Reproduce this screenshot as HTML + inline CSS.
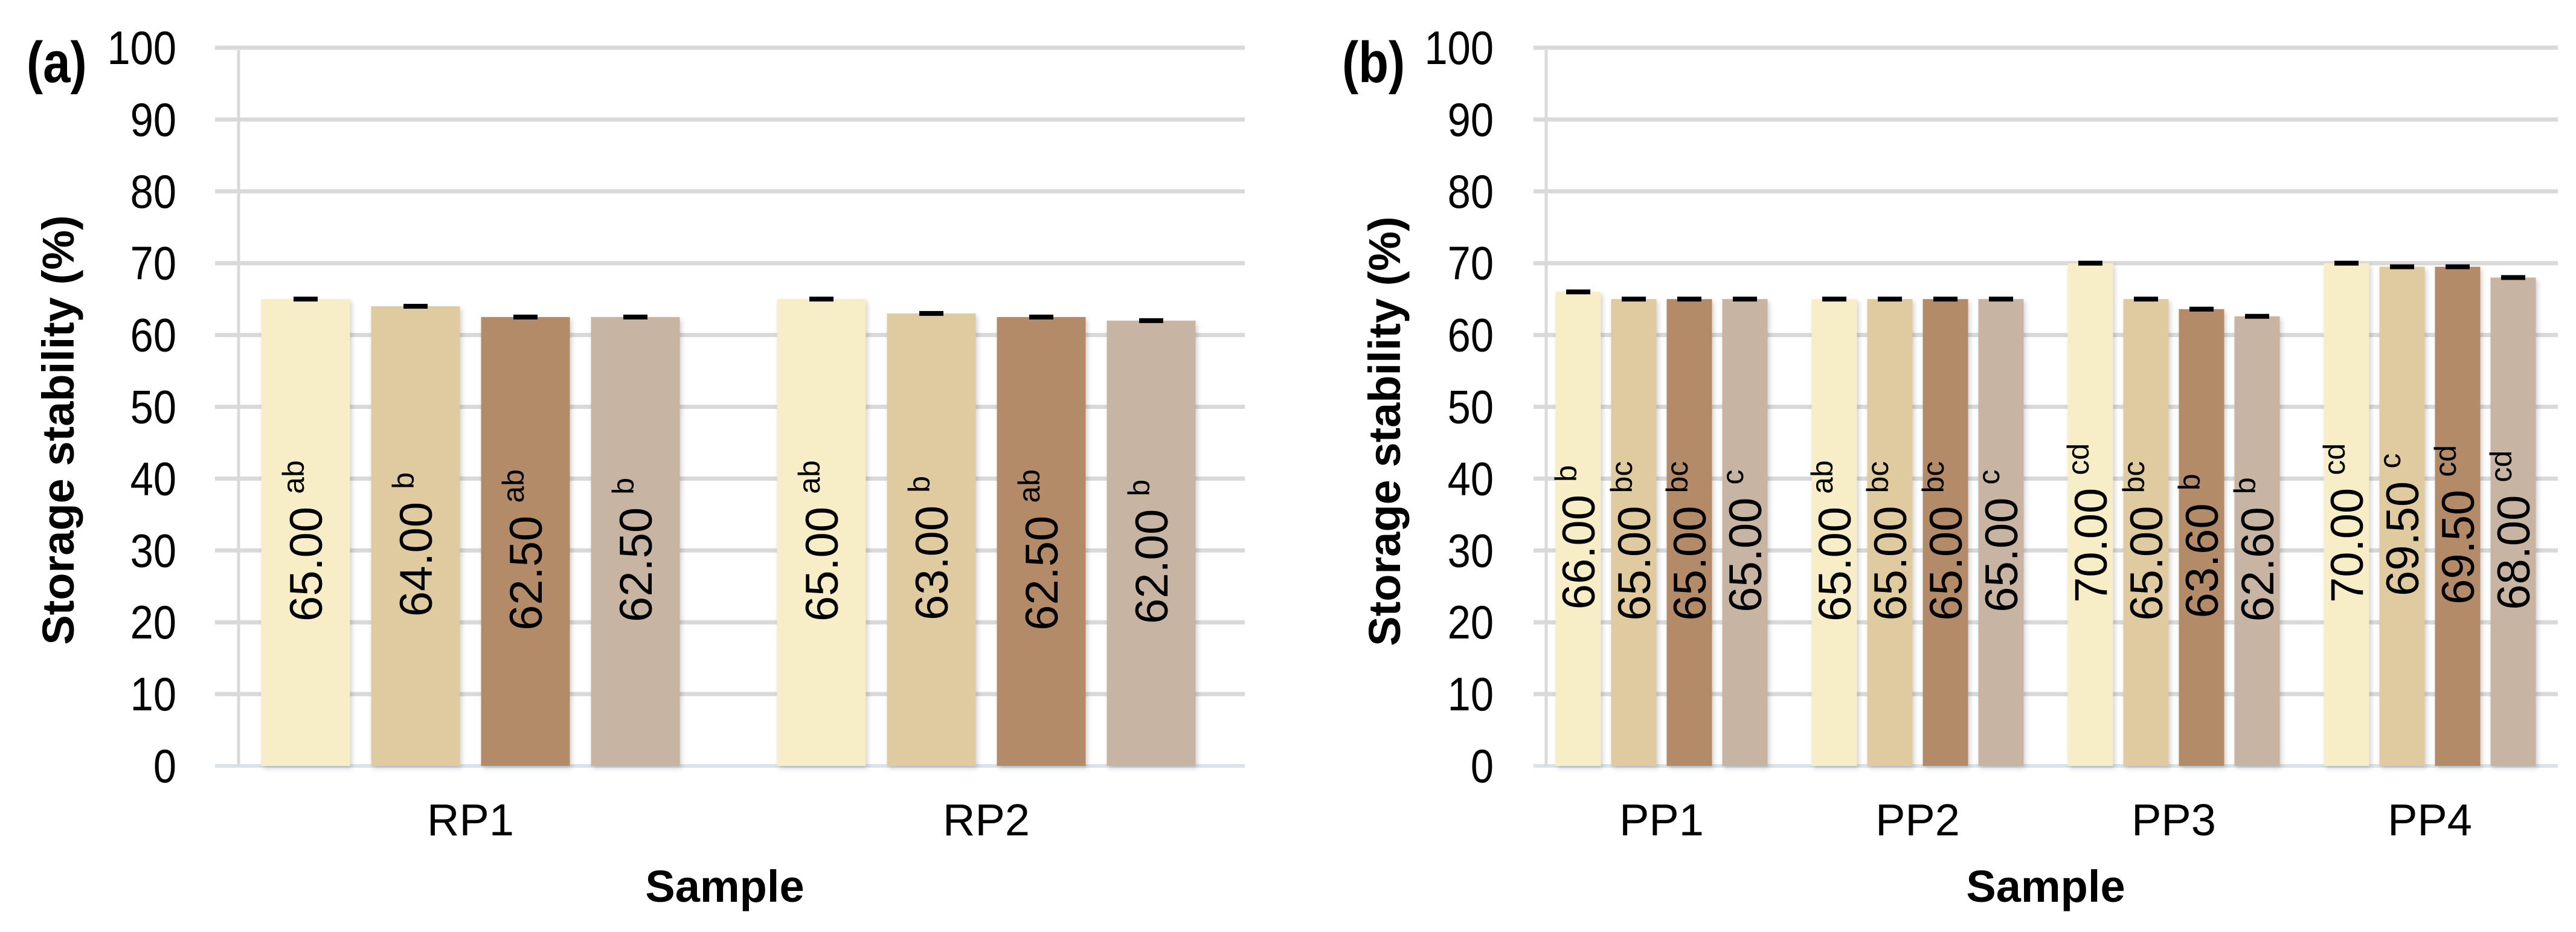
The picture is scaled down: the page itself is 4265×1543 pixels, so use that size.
<!DOCTYPE html>
<html><head><meta charset="utf-8">
<style>
html,body{margin:0;padding:0;background:#fff;}
svg{display:block;font-family:"Liberation Sans",Arial,sans-serif;}
</style></head>
<body>
<svg id="fig" xmlns="http://www.w3.org/2000/svg" width="4265" height="1543" viewBox="0 0 4265 1543">
<defs>
<filter id="sh" x="-20%" y="-5%" width="140%" height="115%">
<feDropShadow dx="3" dy="4" stdDeviation="4" flood-color="#000" flood-opacity="0.18"/>
</filter>
</defs>
<g id="panelA"></g>
<g id="panelB"></g>
</svg>
<script>
const catsA = ['RP1','RP2'];
const valsA = [[65.00,64.00,62.50,62.50],[65.00,63.00,62.50,62.00]];
const letA = [['ab','b','ab','b'],['ab','b','ab','b']];
const catsB = ['PP1','PP2','PP3','PP4'];
const valsB = [[66.00,65.00,65.00,65.00],[65.00,65.00,65.00,65.00],[70.00,65.00,63.60,62.60],[70.00,69.50,69.50,68.00]];
const letB = [['b','bc','bc','c'],['ab','bc','bc','c'],['cd','bc','b','b'],['cd','c','cd','cd']];
const yTicks = [0,10,20,30,40,50,60,70,80,90,100];
const colors = ['#f7eec8','#e0cba0','#b38b68','#c7b4a3'];
const NS='http://www.w3.org/2000/svg';
function mk(tag,attrs,parent,txt){const e=document.createElementNS(NS,tag);for(const k in attrs)e.setAttribute(k,attrs[k]);if(txt!==undefined)e.textContent=txt;parent.appendChild(e);return e;}
const Y0=1268, Y100=79;
function yS(v){return Y0-(v/100)*(Y0-Y100);}

function panel(g,cfg){
  const {cats,vals,lets,gx0,gx1,axisX,tickRight,bx0,bw,barW,step,tx,ty,panelLabel,plx,sampleX}=cfg;
  yTicks.forEach(t=>{
    const l=mk('line',{x1:gx0,x2:gx1,y1:yS(t),y2:yS(t),stroke:t===0?'#dbe3ea':'#d9d9d9','stroke-width':t===0?6:7},g);
    
    
    const tl=mk('text',{x:tickRight,y:yS(t)+27,'text-anchor':'end','font-size':78,fill:'#000',transform:`translate(${tickRight},0) scale(0.88,1) translate(${-tickRight},0)`},g,String(t));
    
    
  });
  const ax=mk('line',{x1:axisX,x2:axisX,y1:yS(100)+4,y2:Y0,stroke:'#d9d9d9','stroke-width':5},g);
  
  
  cats.forEach((c,i)=>{
    const cx=bx0+(i+0.5)*bw;
    const cl=mk('text',{x:cx,y:1383,'text-anchor':'middle','font-size':74,fill:'#000'},g,c);
    
    
    vals[i].forEach((v,j)=>{
      const bc=cx+(j-1.5)*step;
      const r=mk('rect',{x:bc-barW/2,y:yS(v),width:barW,height:Y0-yS(v),fill:colors[j],filter:'url(#sh)'},g);
      
      
      const eb=mk('rect',{x:bc-20,y:yS(v)-4,width:40,height:8,fill:'#000'},g);
      
      
      const ly=yS(v/2)+14;
      const t=mk('text',{x:bc,y:ly+27,'text-anchor':'middle','font-size':76,fill:'#000',transform:`rotate(-90 ${bc} ${ly})`},g);
      
      
      mk('tspan',{},t,v.toFixed(2)+' ');
      mk('tspan',{'font-size':50,dy:-30},t,lets[i][j]);
    });
  });
  const yt=mk('text',{x:tx,y:ty,'text-anchor':'middle','font-size':74,'font-weight':'bold',fill:'#000',transform:`rotate(-90 ${tx} ${ty})`},g,'Storage stability (%)');
  
  
  const xt=mk('text',{x:sampleX,y:1493,'text-anchor':'middle','font-size':74,'font-weight':'bold',fill:'#000'},g,'Sample');
  
  
  const pl=mk('text',{x:plx,y:136,'font-size':96,'font-weight':'bold',fill:'#000',transform:`translate(${plx},0) scale(0.85,1) translate(${-plx},0)`},g,panelLabel);
  
  
}
panel(document.getElementById('panelA'),{cats:catsA,vals:valsA,lets:letA,gx0:356,gx1:2061,axisX:395,tickRight:292,bx0:352,bw:854,barW:147,step:182,tx:122,ty:712,panelLabel:'(a)',plx:44,sampleX:1200});
panel(document.getElementById('panelB'),{cats:catsB,vals:valsB,lets:letB,gx0:2539,gx1:4235,axisX:2560,tickRight:2473,bx0:2539,bw:424,barW:75,step:92,tx:2318,ty:714,panelLabel:'(b)',plx:2222,sampleX:3387});
</script>
</body></html>
